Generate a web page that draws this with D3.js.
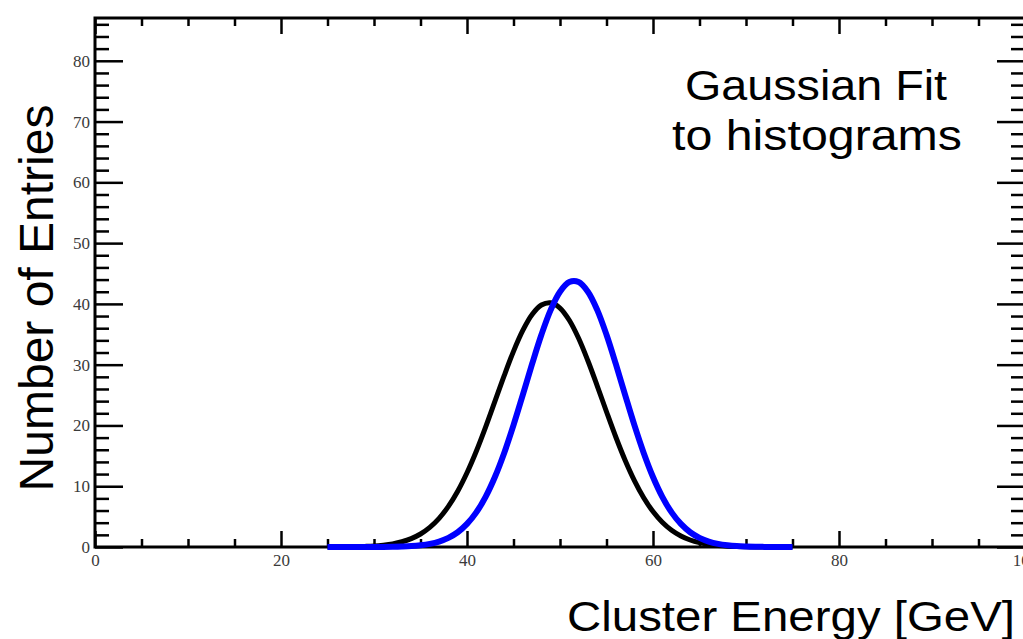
<!DOCTYPE html>
<html>
<head>
<meta charset="utf-8">
<script src="https://cdn.jsdelivr.net/npm/d3@7/dist/d3.min.js"></script>
<style>
  html, body { margin: 0; padding: 0; background: #fff; overflow: hidden; }
  svg { display: block; }
</style>
</head>
<body>
<script>
// ---- data ----
const energyGeV = [25,26,27,28,29,30,31,32,33,34,35,36,37,38,39,40,41,42,43,44,45,46,47,48,49,50,
                   51,52,53,54,55,56,57,58,59,60,61,62,63,64,65,66,67,68,69,70,71,72,73,74,75];
const blackFit = [0.01,0.01,0.03,0.05,0.10,0.17,0.31,0.52,0.86,1.38,2.14,3.23,4.72,6.68,9.17,12.21,15.76,19.73,23.96,28.20,
                  32.19,35.63,38.25,39.81,40.18,39.32,37.31,34.34,30.64,26.52,22.25,18.10,14.28,10.93,8.11,5.83,4.07,2.75,1.81,1.15,
                  0.71,0.42,0.25,0.14,0.08,0.04,0.02,0.01,0.00,0.00,0.00];
const blueFit  = [0.00,0.00,0.00,0.00,0.00,0.01,0.02,0.04,0.08,0.15,0.29,0.52,0.90,1.51,2.43,3.80,5.70,8.26,11.52,15.48,
                  20.05,25.04,30.12,34.92,39.02,42.01,43.60,43.60,42.01,39.02,34.92,30.12,25.04,20.05,15.48,11.52,8.26,5.70,3.80,2.43,
                  1.51,0.90,0.52,0.29,0.15,0.08,0.04,0.02,0.01,0.00,0.00];
const xMajorTicks = [0,20,40,60,80,100];
const yMajorTicks = [0,10,20,30,40,50,60,70,80];
const xTitle = "Cluster Energy [GeV]";
const yTitle = "Number of Entries";
const noteLines = ["Gaussian Fit", "to histograms"];

// ---- layout ----
const W = 1023, H = 639;
const pL = 95, pR = 1025, pT = 18, pB = 547;

const svg = d3.select("body").append("svg").attr("width", W).attr("height", H);

const x = d3.scaleLinear().domain([0, 100]).range([pL, pR]);
const y = d3.scaleLinear().domain([0, 87.04]).range([pB, pT]);

const xMinor = d3.range(0, 100.001, 5).filter(v => !xMajorTicks.includes(v));
const yMinor = d3.range(0, 87, 2).filter(v => !yMajorTicks.includes(v));

const tickFmt = d3.format("d");

// bottom axis
const gB = svg.append("g").attr("transform", `translate(0,${pB})`)
  .call(d3.axisBottom(x).tickValues(xMajorTicks).tickSize(-16).tickPadding(7).tickFormat(tickFmt));
gB.append("g").call(d3.axisBottom(x).tickValues(xMinor).tickSize(-8).tickFormat(""));
// top axis
const gT = svg.append("g").attr("transform", `translate(0,${pT})`)
  .call(d3.axisTop(x).tickValues(xMajorTicks).tickSize(-16).tickFormat(""));
gT.append("g").call(d3.axisTop(x).tickValues(xMinor).tickSize(-8).tickFormat(""));
// left axis
const gL = svg.append("g").attr("transform", `translate(${pL},0)`)
  .call(d3.axisLeft(y).tickValues(yMajorTicks).tickSize(-28).tickPadding(5).tickFormat(tickFmt));
gL.append("g").call(d3.axisLeft(y).tickValues(yMinor).tickSize(-14).tickFormat(""));
// right axis
const gR = svg.append("g").attr("transform", `translate(${pR},0)`)
  .call(d3.axisRight(y).tickValues(yMajorTicks).tickSize(-28).tickFormat(""));
gR.append("g").call(d3.axisRight(y).tickValues(yMinor).tickSize(-14).tickFormat(""));

svg.selectAll(".domain").remove();
svg.selectAll(".tick line").attr("stroke", "#000").attr("stroke-width", 2.5);
svg.selectAll(".tick text")
  .attr("font-family", "'Liberation Serif', 'Times New Roman', serif")
  .attr("font-size", 17).attr("fill", "#3a3a3a");

// frame
svg.append("rect").attr("x", pL).attr("y", pT)
  .attr("width", pR - pL).attr("height", pB - pT)
  .attr("fill", "none").attr("stroke", "#000").attr("stroke-width", 3);

// curves
const line = d3.line().x((d, i) => x(energyGeV[i])).y(d => y(d)).curve(d3.curveCatmullRom);
svg.append("path").datum(blackFit).attr("d", line)
  .attr("fill", "none").attr("stroke", "#000").attr("stroke-width", 5);
svg.append("path").datum(blueFit).attr("d", line)
  .attr("fill", "none").attr("stroke", "#0000ff").attr("stroke-width", 6);

// titles
const sans = "'Liberation Sans', Arial, Helvetica, sans-serif";
svg.append("text").attr("transform", "translate(53,298) rotate(-90)")
  .attr("text-anchor", "middle").attr("font-family", sans).attr("font-size", 48)
  .attr("fill", "#000").text(yTitle);

svg.append("text").attr("x", 567).attr("y", 631)
  .attr("font-family", sans).attr("font-size", 42.5)
  .attr("textLength", 448).attr("lengthAdjust", "spacingAndGlyphs")
  .attr("fill", "#000").text(xTitle);

const noteX = [685, 672], noteY = [100, 150], noteLen = [262, 290];
noteLines.forEach((t, i) => {
  svg.append("text").attr("x", noteX[i]).attr("y", noteY[i])
    .attr("font-family", sans).attr("font-size", 42)
    .attr("textLength", noteLen[i]).attr("lengthAdjust", "spacingAndGlyphs")
    .attr("fill", "#000").text(t);
});
</script>
</body>
</html>
